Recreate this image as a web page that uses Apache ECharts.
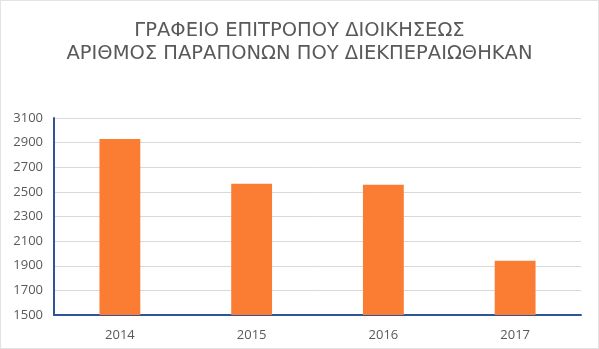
<!DOCTYPE html>
<html>
<head>
<meta charset="utf-8">
<script src="https://cdn.jsdelivr.net/npm/echarts@6/dist/echarts.min.js"></script>
<style>
  html, body { margin: 0; padding: 0; background: #fff; }
  #chart { width: 599px; height: 349px; box-sizing: border-box; border: 1px solid #e3e3e3; }
</style>
</head>
<body>
<div id="chart"></div>
<script>
var years = ['2014', '2015', '2016', '2017'];
var complaints = [2930, 2567, 2557, 1941];
var titleLines = ['ΓΡΑΦΕΙΟ ΕΠΙΤΡΟΠΟΥ ΔΙΟΙΚΗΣΕΩΣ', 'ΑΡΙΘΜΟΣ ΠΑΡΑΠΟΝΩΝ ΠΟΥ ΔΙΕΚΠΕΡΑΙΩΘΗΚΑΝ'];

var myChart = echarts.init(document.getElementById('chart'));

var option = {
  animation: false,
  title: {
    text: titleLines.join('\n'),
    left: 'center',
    top: 13,
    textStyle: {
      fontFamily: 'DejaVu Sans',
      fontSize: 19.5,
      fontWeight: 'normal',
      color: '#595959',
      lineHeight: 23
    }
  },
  grid: {
    left: 53,
    right: 17,
    top: 117,
    bottom: 33
  },
  xAxis: {
    type: 'category',
    data: years,
    axisLine: { lineStyle: { color: '#2f5597', width: 2 } },
    axisTick: { show: false },
    axisLabel: {
      color: '#595959',
      fontFamily: 'Open Sans',
      fontSize: 13,
      margin: 14
    }
  },
  yAxis: {
    type: 'value',
    min: 1500,
    max: 3100,
    interval: 200,
    axisLine: { show: true, lineStyle: { color: '#2f5597', width: 2 } },
    axisTick: { show: false },
    splitLine: { lineStyle: { color: '#d9d9d9', width: 1 } },
    axisLabel: {
      color: '#595959',
      fontFamily: 'Open Sans',
      fontSize: 13,
      margin: 11,
      formatter: function (v) { return String(v); }
    }
  },
  series: [{
    type: 'bar',
    data: complaints,
    barWidth: '31%',
    itemStyle: { color: '#fb7d34' }
  }]
};

myChart.setOption(option);
</script>
</body>
</html>
